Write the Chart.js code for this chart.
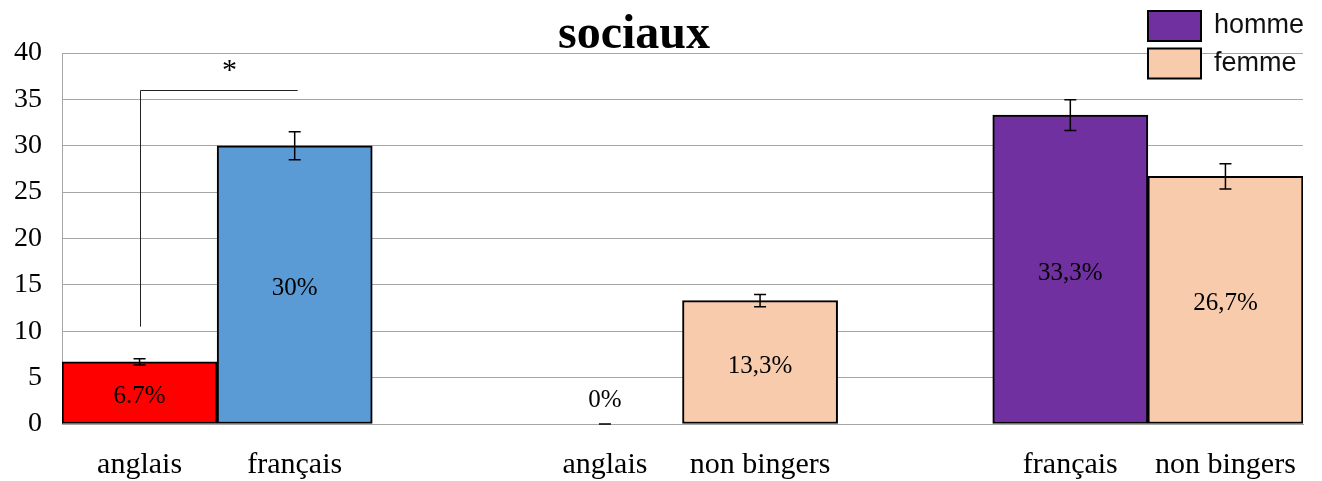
<!DOCTYPE html>
<html><head><meta charset="utf-8">
<script src="https://cdn.jsdelivr.net/npm/chart.js@4/dist/chart.umd.min.js"></script>
<style>html,body{margin:0;padding:0;background:#fff;overflow:hidden}</style>
</head><body>
<canvas id="c" width="1322" height="481" style="display:block;width:1322px;height:481px"></canvas>
<script>
// ---- data ----
const categories = ['anglais', 'français', '', 'anglais', 'non bingers', '', 'français', 'non bingers'];
const values = [6.7, 30, null, 0, 13.3, null, 33.3, 26.7];
const errors = [0.33, 1.5, null, 0, 0.65, null, 1.65, 1.35];
const valueLabels = ['6.7%', '30%', '', '0%', '13,3%', '', '33,3%', '26,7%'];
const barColors = ['#FF0000', '#5B9BD5', '#FFFFFF', '#FFFFFF', '#F8CBAD', '#FFFFFF', '#7030A0', '#F8CBAD'];
const yTicks = [0, 5, 10, 15, 20, 25, 30, 35, 40];
const legendLabels = ['homme', 'femme'];
const legendColors = ['#7030A0', '#F8CBAD'];
const titleText = 'sociaux';
const bracketCategories = [0, 1];
const bracketLevels = [10.5, 36];
const starText = '*';
const starPosition = [0.58, 37.2];

const SERIF = "'Liberation Serif', 'Times New Roman', serif";
const SANS = "'Liberation Sans', Arial, sans-serif";

const overlay = {
  id: 'overlay',
  afterDatasetsDraw(chart) {
    const ctx = chart.ctx;
    const meta = chart.getDatasetMeta(0);
    const ys = chart.scales.y, xs = chart.scales.x;
    ctx.save();
    // error bars
    ctx.strokeStyle = '#000';
    ctx.lineWidth = 1.5;
    meta.data.forEach((el, i) => {
      if (values[i] === null || errors[i] === null) return;
      const x = el.x;
      const yTop = ys.getPixelForValue(values[i] + errors[i]);
      const yBot = ys.getPixelForValue(values[i] - errors[i]);
      ctx.beginPath();
      ctx.moveTo(x, yTop); ctx.lineTo(x, yBot);
      ctx.moveTo(x - 6, yTop); ctx.lineTo(x + 6, yTop);
      ctx.moveTo(x - 6, yBot); ctx.lineTo(x + 6, yBot);
      ctx.stroke();
    });
    // value labels
    ctx.fillStyle = '#000';
    ctx.font = '25px ' + SERIF;
    ctx.textAlign = 'center';
    ctx.textBaseline = 'middle';
    meta.data.forEach((el, i) => {
      if (!valueLabels[i]) return;
      let y;
      if (values[i] === 0) y = ys.getPixelForValue(2.8) + 2;
      else y = (el.y + el.base) / 2 + 4;
      ctx.fillText(valueLabels[i], el.x, y);
    });
    // significance bracket
    const bx0 = xs.getPixelForValue(bracketCategories[0]);
    const bx1 = xs.getPixelForValue(bracketCategories[1]) + 3;
    const by0 = ys.getPixelForValue(bracketLevels[0]);
    const by1 = ys.getPixelForValue(bracketLevels[1]);
    ctx.strokeStyle = '#222';
    ctx.lineWidth = 1;
    ctx.beginPath();
    ctx.moveTo(Math.round(bx0) + 0.5, by0);
    ctx.lineTo(Math.round(bx0) + 0.5, Math.round(by1) + 0.5);
    ctx.lineTo(bx1, Math.round(by1) + 0.5);
    ctx.stroke();
    ctx.font = '30px ' + SERIF;
    ctx.textBaseline = 'alphabetic';
    ctx.fillText(starText, xs.getPixelForValue(starPosition[0]), ys.getPixelForValue(starPosition[1]));
    // title
    ctx.font = 'bold 48px ' + SERIF;
    ctx.fillText(titleText, 634, 48);
    // legend
    ctx.textAlign = 'left';
    ctx.textBaseline = 'middle';
    ctx.font = '27px ' + SANS;
    legendLabels.forEach((lab, i) => {
      const top = 11 + i * 37.5;
      ctx.fillStyle = legendColors[i];
      ctx.fillRect(1148, top, 53, 30);
      ctx.strokeStyle = '#000';
      ctx.lineWidth = 2;
      ctx.strokeRect(1148, top, 53, 30);
      ctx.fillStyle = '#111';
      ctx.fillText(lab, 1214, top + 15);
    });
    ctx.restore();
  }
};

new Chart(document.getElementById('c'), {
  type: 'bar',
  data: {
    labels: categories,
    datasets: [{
      data: values,
      backgroundColor: barColors,
      borderColor: '#000',
      borderWidth: values.map(v => (v ? 2 : 0)),
      borderSkipped: false,
      barPercentage: 1.0,
      categoryPercentage: 1.0
    }]
  },
  options: {
    responsive: false,
    animation: false,
    devicePixelRatio: 1,
    layout: { padding: { top: 53, right: 19, bottom: 0, left: 0 } },
    plugins: { legend: { display: false }, title: { display: false }, tooltip: { enabled: false } },
    scales: {
      x: {
        grid: { display: false, drawTicks: false },
        border: { color: '#A6A6A6', width: 1 },
        ticks: { color: '#000', font: { family: SERIF, size: 30 }, padding: 23, autoSkip: false, maxRotation: 0 },
        afterFit(s) { s.height = 57; }
      },
      y: {
        min: 0, max: 40,
        afterBuildTicks(s) { s.ticks = yTicks.map(v => ({ value: v })); },
        grid: { color: '#A6A6A6', lineWidth: 1, drawTicks: false },
        border: { color: '#A6A6A6', width: 1 },
        ticks: { color: '#000', font: { family: SERIF, size: 28 }, padding: 20 },
        afterFit(s) { s.width = 62; }
      }
    }
  },
  plugins: [overlay]
});
</script>
</body></html>
